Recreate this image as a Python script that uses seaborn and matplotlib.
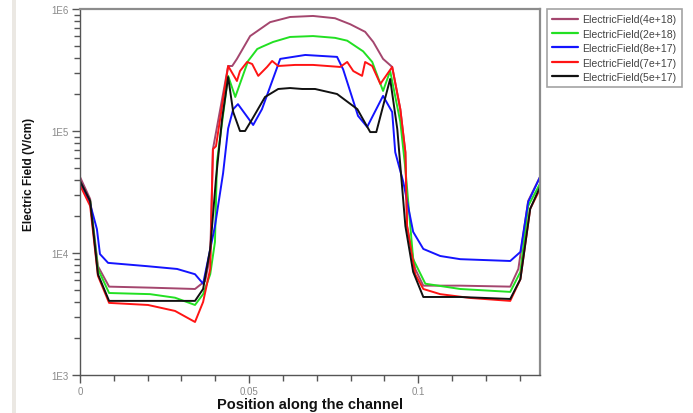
import numpy as np
import pandas as pd
import matplotlib
matplotlib.use("Agg")
import matplotlib.pyplot as plt
from matplotlib.ticker import FixedLocator, NullFormatter, FuncFormatter, MultipleLocator
from matplotlib.patches import Rectangle
import seaborn as sns

# Electric field along the channel for five doping levels
labels = ["ElectricField(4e+18)", "ElectricField(2e+18)", "ElectricField(8e+17)",
          "ElectricField(7e+17)", "ElectricField(5e+17)"]
colors = ["#a4466e", "#22e022", "#1414ff", "#ff1414", "#111111"]

pos_4e18 = [0, 0.0030, 0.0053, 0.0086, 0.0207, 0.0340, 0.0370, 0.0385, 0.0393, 0.0438,
            0.0450, 0.0464, 0.0503, 0.0562, 0.0621, 0.0689, 0.0754, 0.0799, 0.0843, 0.0867,
            0.0896, 0.0923, 0.0947, 0.0962, 0.0967, 0.0991, 0.1015, 0.1124, 0.1272, 0.1296,
            0.1325, 0.136]
ef_4e18 = [4.2e4, 2.77e4, 7.8e3, 5.3e3, 5.2e3, 5.07e3, 5.9e3, 9.45e3, 7.1e4, 3.41e5,
           3.41e5, 3.9e5, 6.0e5, 7.8e5, 8.6e5, 8.77e5, 8.4e5, 7.5e5, 6.5e5, 5.37e5,
           3.9e5, 3.35e5, 1.51e5, 6.7e4, 1.66e4, 7.4e3, 5.4e3, 5.4e3, 5.3e3, 7.4e3,
           2.67e4, 4.2e4]

pos_2e18 = [0, 0.0030, 0.0053, 0.0086, 0.0207, 0.0281, 0.0340, 0.0364, 0.0385, 0.0399,
            0.0405, 0.0438, 0.0459, 0.0497, 0.0524, 0.0538, 0.0571, 0.0621, 0.0689, 0.0754,
            0.0790, 0.0837, 0.0864, 0.0896, 0.0917, 0.0947, 0.0962, 0.0985, 0.1021, 0.1124,
            0.1272, 0.1302, 0.1325, 0.136]
ef_2e18 = [3.6e4, 2.67e4, 7.4e3, 4.7e3, 4.6e3, 4.3e3, 3.75e3, 4.6e3, 6.7e3, 1.23e4,
           5.6e4, 2.83e5, 1.9e5, 3.75e5, 4.7e5, 4.9e5, 5.37e5, 5.9e5, 6.0e5, 5.8e5,
           5.5e5, 4.5e5, 3.68e5, 2.13e5, 3.1e5, 1.19e5, 4.9e4, 8.9e3, 5.6e3, 5.07e3,
           4.8e3, 7.0e3, 2.43e4, 3.7e4]

pos_8e17 = [0, 0.0030, 0.0050, 0.0059, 0.0083, 0.0198, 0.0287, 0.0340, 0.0364, 0.0399,
            0.0423, 0.0438, 0.0453, 0.0467, 0.0512, 0.0538, 0.0592, 0.0666, 0.0760, 0.0778,
            0.0822, 0.0849, 0.0896, 0.0923, 0.0932, 0.0956, 0.0985, 0.1015, 0.1065, 0.1124,
            0.1272, 0.1302, 0.1325, 0.136]
ef_8e17 = [3.8e4, 2.52e4, 1.57e4, 9.8e3, 8.3e3, 7.8e3, 7.4e3, 6.7e3, 5.6e3, 1.66e4,
           4.5e4, 1.05e5, 1.51e5, 1.66e5, 1.12e5, 1.51e5, 3.9e5, 4.2e5, 4.05e5, 3.2e5,
           1.33e5, 1.08e5, 1.94e5, 1.43e5, 6.7e4, 3.8e4, 1.49e4, 1.08e4, 9.45e3, 8.9e3,
           8.6e3, 1.02e4, 2.62e4, 4.2e4]

pos_7e17 = [0, 0.0030, 0.0053, 0.0086, 0.0201, 0.0281, 0.0340, 0.0364, 0.0385, 0.0393,
            0.0402, 0.0438, 0.0464, 0.0473, 0.0494, 0.0509, 0.0527, 0.0553, 0.0568, 0.0586,
            0.0636, 0.0689, 0.0769, 0.0790, 0.0808, 0.0834, 0.0843, 0.0864, 0.0888, 0.0923,
            0.0947, 0.0962, 0.0967, 0.0991, 0.1015, 0.1065, 0.1154, 0.1272, 0.1302, 0.1331,
            0.136]
ef_7e17 = [3.6e4, 2.43e4, 6.5e3, 3.9e3, 3.75e3, 3.35e3, 2.72e3, 3.97e3, 7.4e3, 7.1e4,
           7.5e4, 3.41e5, 2.57e5, 3.1e5, 3.68e5, 3.54e5, 2.83e5, 3.35e5, 3.75e5, 3.41e5,
           3.48e5, 3.48e5, 3.35e5, 3.68e5, 3.1e5, 2.83e5, 3.68e5, 3.41e5, 2.43e5, 3.35e5,
           1.51e5, 6.7e4, 1.66e4, 6.7e3, 5.07e3, 4.6e3, 4.28e3, 4.05e3, 6.1e3, 2.3e4,
           3.35e4]

pos_5e17 = [0, 0.0030, 0.0053, 0.0086, 0.0207, 0.0340, 0.0364, 0.0385, 0.0402, 0.0420,
            0.0438, 0.0453, 0.0473, 0.0488, 0.0509, 0.0547, 0.0586, 0.0621, 0.0657, 0.0695,
            0.0760, 0.0820, 0.0858, 0.0876, 0.0917, 0.0938, 0.0962, 0.0985, 0.1015, 0.1124,
            0.1272, 0.1302, 0.1331, 0.136]
ef_5e17 = [3.9e4, 2.67e4, 6.7e3, 4.05e3, 4.05e3, 4.05e3, 5.07e3, 1.08e4, 4.05e4, 1.25e5,
           2.77e5, 1.43e5, 1.0e5, 1.0e5, 1.25e5, 1.9e5, 2.21e5, 2.25e5, 2.21e5, 2.21e5,
           2.01e5, 1.51e5, 9.8e4, 9.8e4, 2.67e5, 1.04e5, 1.66e4, 7.0e3, 4.36e3, 4.36e3,
           4.2e3, 6.1e3, 2.3e4, 3.48e4]

positions = [pos_4e18, pos_2e18, pos_8e17, pos_7e17, pos_5e17]
fields = [ef_4e18, ef_2e18, ef_8e17, ef_7e17, ef_5e17]

frames = []
for lab, xs, ys in zip(labels, positions, fields):
    frames.append(pd.DataFrame({"pos": xs, "field": ys, "series": lab}))
df = pd.concat(frames, ignore_index=True)

sns.set_style("white")
plt.rcParams["font.family"] = ["Liberation Sans", "DejaVu Sans"]

fig = plt.figure(figsize=(6.93, 4.14), dpi=100)

# window frame strip along the left edge, kept behind everything else
fig.add_artist(Rectangle((12 / 693, 0), 4 / 693, 1, transform=fig.transFigure,
                         facecolor="#ebe8e3", edgecolor="none", zorder=-10))

ax = fig.add_axes([80 / 693, 1 - 376 / 414, 460 / 693, 366 / 414])

sns.lineplot(data=df, x="pos", y="field", hue="series", hue_order=labels,
             palette=dict(zip(labels, colors)), sort=False, estimator=None,
             units="series", linewidth=1.4, ax=ax, legend=True)

ax.set_yscale("log")
ax.set_ylim(1e3, 1e6)
ax.set_xlim(0, 0.136)

# decade ticks labelled in 1En style
ax.yaxis.set_major_locator(FixedLocator([1e3, 1e4, 1e5, 1e6]))
ax.yaxis.set_major_formatter(FuncFormatter(lambda v, p: "1E%d" % round(np.log10(v))))
minor = [m * 10 ** d for d in (3, 4, 5) for m in range(2, 10)]
ax.yaxis.set_minor_locator(FixedLocator(minor))
ax.yaxis.set_minor_formatter(NullFormatter())

ax.xaxis.set_major_locator(FixedLocator([0, 0.05, 0.1]))
ax.xaxis.set_major_formatter(FuncFormatter(lambda v, p: "0" if v == 0 else ("%g" % v)))
ax.xaxis.set_minor_locator(MultipleLocator(0.01))

ax.tick_params(which="both", direction="out", colors="#555555", width=1.0,
               labelcolor="#8a8a8a", labelsize=7, bottom=True, left=True)
ax.tick_params(which="major", length=6, pad=2)
ax.tick_params(which="minor", length=4)

for side in ("left", "bottom"):
    ax.spines[side].set_color("#555555")
    ax.spines[side].set_linewidth(1.0)
for side in ("top", "right"):
    ax.spines[side].set_color("#8c8c8c")
    ax.spines[side].set_linewidth(1.6)

ax.set_xlabel("Position along the channel", fontsize=10.5, fontweight="bold",
              color="#111111", va="center")
ax.xaxis.set_label_coords(0.5, (376 - 405) / 366)
ax.set_ylabel("Electric Field (V/cm)", fontsize=8.5, fontweight="bold",
              color="#111111", va="center")
ax.yaxis.set_label_coords((29 - 80) / 460, 1 - (174 - 10) / 366)

handles, labs = ax.get_legend_handles_labels()
ax.get_legend().remove()
leg = fig.legend(handles, labs, loc="upper left", bbox_to_anchor=(547 / 693, 1 - 10 / 414),
                 fontsize=7.6, frameon=True, fancybox=False, handlelength=2.4,
                 handletextpad=0.45, borderpad=0.5, labelspacing=0.42, borderaxespad=0)
leg.get_frame().set_edgecolor("#8c8c8c")
leg.get_frame().set_linewidth(1.2)
for t in leg.get_texts():
    t.set_color("#444444")
for h in leg.get_lines():
    h.set_linewidth(1.6)

fig.savefig("out.png", dpi=100)
